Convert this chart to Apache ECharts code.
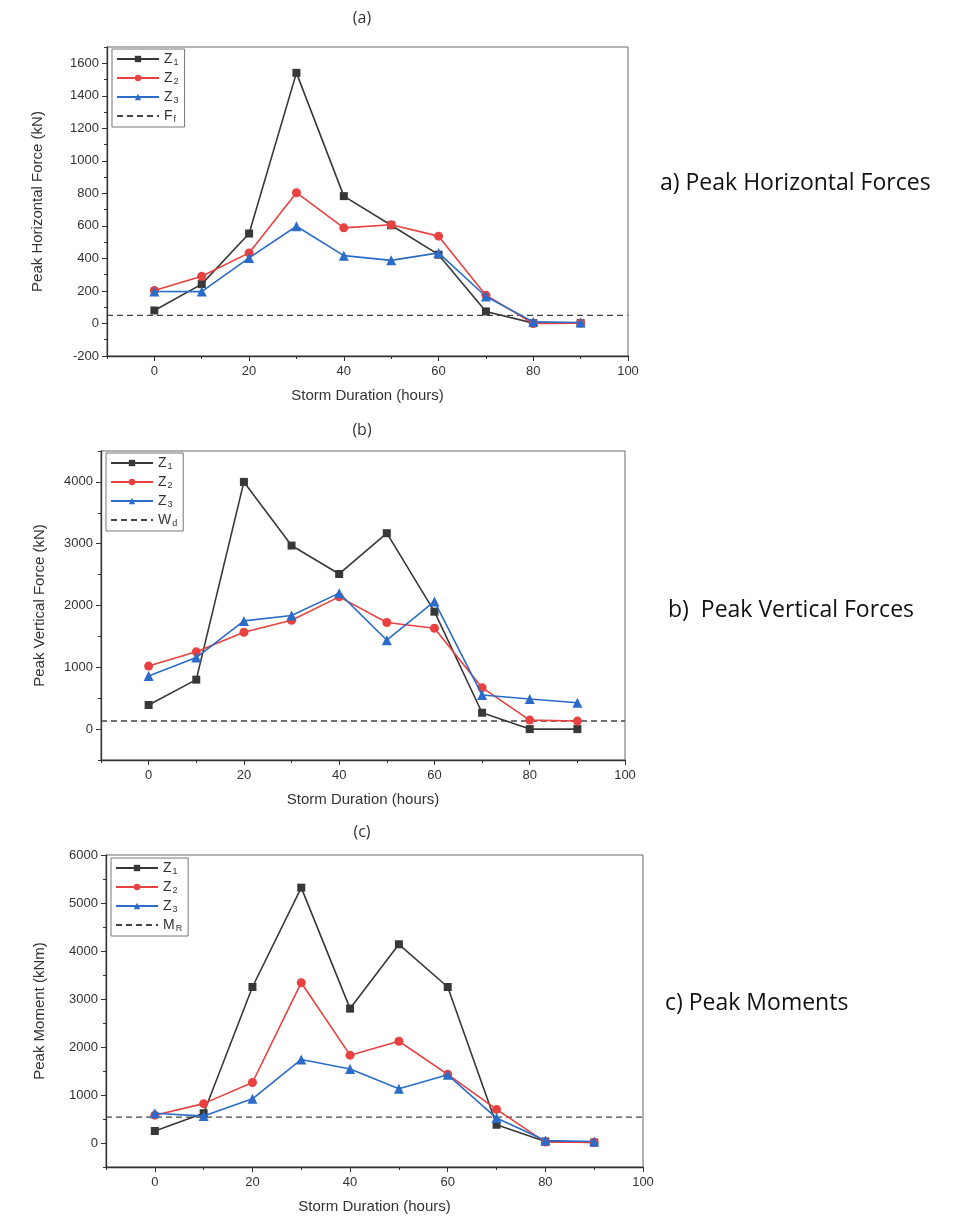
<!DOCTYPE html>
<html>
<head>
<meta charset="utf-8">
<script src="https://cdn.jsdelivr.net/npm/echarts@6/dist/echarts.min.js"></script>
<style>
html,body{margin:0;padding:0;background:#fff;}
#chart{width:956px;height:1216px;}
</style>
</head>
<body>
<div id="chart"></div>
<script>
// ---- data ----
const stormHours = [0, 10, 20, 30, 40, 50, 60, 70, 80, 90];

const hForceZ1 = [80, 242, 553, 1541, 783, 604, 423, 74, 2, 2];
const hForceZ2 = [203, 290, 434, 804, 588, 607, 537, 174, 0, 2];
const hForceZ3 = [197, 196, 403, 598, 417, 388, 434, 166, 10, 6];
const hForceFf = 50;

const vForceZ1 = [390, 800, 4000, 2970, 2510, 3170, 1900, 265, 0, 0];
const vForceZ2 = [1020, 1250, 1568, 1762, 2140, 1724, 1632, 670, 146, 130];
const vForceZ3 = [859, 1157, 1751, 1838, 2200, 1438, 2065, 551, 486, 427];
const vForceWd = 130;

const momentZ1 = [250, 620, 3250, 5320, 2800, 4140, 3250, 380, 30, 10];
const momentZ2 = [580, 820, 1260, 3340, 1830, 2120, 1430, 700, 20, 10];
const momentZ3 = [620, 560, 920, 1740, 1540, 1130, 1420, 520, 50, 30];
const momentMr = 540;

const xTickLabels = [0, 20, 40, 60, 80, 100];
const hTickLabels = [-200, 0, 200, 400, 600, 800, 1000, 1200, 1400, 1600];
const vTickLabels = [0, 1000, 2000, 3000, 4000];
const mTickLabels = [0, 1000, 2000, 3000, 4000, 5000, 6000];

const panelTitles = ['(a)', '(b)', '(c)'];
const sideLabels = ['a) Peak Horizontal Forces', 'b)  Peak Vertical Forces', 'c) Peak Moments'];
const yNames = ['Peak Horizontal Force (kN)', 'Peak Vertical Force (kN)', 'Peak Moment (kNm)'];
const xName = 'Storm Duration (hours)';
const seriesNames = ['Z_1', 'Z_2', 'Z_3'];
const limitNames = ['F_f', 'W_d', 'M_R'];

// ---- layout / style ----
const panels = [
  {grid: {left: 107, top: 47, width: 521, height: 309}, yMin: -200, yMax: 1700, yMinor: 100, yTicks: hTickLabels,
   data: [hForceZ1, hForceZ2, hForceZ3], limit: hForceFf, nameGap: 62,
   title: [362, 18], side: [660, 183], legend: {left: 112, top: 49}},
  {grid: {left: 101, top: 451, width: 524, height: 309}, yMin: -500, yMax: 4500, yMinor: 500, yTicks: vTickLabels,
   data: [vForceZ1, vForceZ2, vForceZ3], limit: vForceWd, nameGap: 54,
   title: [362, 430], side: [668, 610], legend: {left: 106, top: 453}},
  {grid: {left: 106, top: 855, width: 537, height: 312}, yMin: -500, yMax: 6000, yMinor: 500, yTicks: mTickLabels,
   data: [momentZ1, momentZ2, momentZ3], limit: momentMr, nameGap: 59,
   title: [362, 832], side: [665, 1003], legend: {left: 111, top: 858}}
];

const colors = ['#383838', '#e8413f', '#2a6cc8'];
const symbols = ['rect', 'circle', 'triangle'];
const symbolSizes = [8, 9, 10];
const axisColor = '#333';
const labelFont = {fontFamily: 'Liberation Sans, Arial', fontSize: 13, color: '#333'};
const plainNum = v => String(v);

const grids = [], xAxes = [], yAxes = [], series = [], legends = [], graphics = [];

panels.forEach((p, i) => {
  grids.push(Object.assign({show: true, borderColor: '#666', borderWidth: 1, backgroundColor: 'transparent'}, p.grid));
  // main x axis (labels + major ticks)
  xAxes.push({
    type: 'value', gridIndex: i, min: -10, max: 100, position: 'bottom',
    name: xName, nameLocation: 'middle', nameGap: 32,
    nameTextStyle: {fontFamily: 'Liberation Sans, Arial', fontSize: 15, color: '#333'},
    axisLine: {show: true, onZero: false, lineStyle: {color: axisColor, width: 1.3}},
    axisTick: {show: true, length: 5, customValues: xTickLabels, lineStyle: {color: axisColor}},
    axisLabel: Object.assign({customValues: xTickLabels, margin: 9, formatter: plainNum}, labelFont),
    splitLine: {show: false}
  });
  // minor x ticks
  xAxes.push({
    type: 'value', gridIndex: i, min: -10, max: 100, interval: 10, position: 'bottom',
    axisLine: {show: false, onZero: false}, axisLabel: {show: false}, splitLine: {show: false},
    axisTick: {show: true, length: 3, lineStyle: {color: axisColor}}
  });
  yAxes.push({
    type: 'value', gridIndex: i, min: p.yMin, max: p.yMax, position: 'left',
    name: yNames[i], nameLocation: 'middle', nameGap: p.nameGap,
    nameTextStyle: {fontFamily: 'Liberation Sans, Arial', fontSize: 15, color: '#333'},
    axisLine: {show: true, onZero: false, lineStyle: {color: axisColor, width: 1.3}},
    axisTick: {show: true, length: 5, customValues: p.yTicks, lineStyle: {color: axisColor}},
    axisLabel: Object.assign({customValues: p.yTicks, margin: 8, formatter: plainNum}, labelFont),
    splitLine: {show: false}
  });
  yAxes.push({
    type: 'value', gridIndex: i, min: p.yMin, max: p.yMax, interval: p.yMinor, position: 'left',
    axisLine: {show: false, onZero: false}, axisLabel: {show: false}, splitLine: {show: false},
    axisTick: {show: true, length: 3, lineStyle: {color: axisColor}}
  });

  p.data.forEach((vals, k) => {
    series.push({
      type: 'line', name: seriesNames[k], xAxisIndex: i * 2, yAxisIndex: i * 2,
      data: stormHours.map((h, j) => [h, vals[j]]),
      symbol: symbols[k], symbolSize: symbolSizes[k], showSymbol: true,
      lineStyle: {color: colors[k], width: 1.6},
      itemStyle: {color: colors[k]},
      animation: false, z: 3 + k
    });
  });
  series.push({
    type: 'line', name: limitNames[i], xAxisIndex: i * 2, yAxisIndex: i * 2,
    data: [[-10, p.limit], [100, p.limit]],
    symbol: 'none', lineStyle: {color: '#444', width: 1.4, type: [6, 4]},
    itemStyle: {color: 'rgba(0,0,0,0)', borderWidth: 0}, animation: false, z: 2
  });

  legends.push({
    left: p.legend.left, top: p.legend.top, orient: 'vertical',
    data: seriesNames.concat([limitNames[i]]),
    borderColor: '#777', borderWidth: 1, padding: [3, 6, 3, 4], itemGap: 4,
    itemWidth: 42, itemHeight: 8, selectedMode: false,
    formatter: function (name) {
      const parts = name.split('_');
      return '{b|' + parts[0] + '}{s|' + parts[1] + '}';
    },
    textStyle: {
      color: '#333',
      rich: {
        b: {fontFamily: 'Liberation Sans, Arial', fontSize: 14, color: '#333'},
        s: {fontFamily: 'Liberation Sans, Arial', fontSize: 9, color: '#333', padding: [7, 0, 0, 1]}
      }
    }
  });

  graphics.push({
    type: 'text', x: p.title[0], y: p.title[1],
    style: {text: panelTitles[i], fontFamily: 'Open Sans', fontSize: 16, fill: '#333',
            align: 'center', verticalAlign: 'middle', textAlign: 'center', textVerticalAlign: 'middle'}
  });
  graphics.push({
    type: 'text', x: p.side[0], y: p.side[1],
    style: {text: sideLabels[i], fontFamily: 'Open Sans', fontSize: 23, fill: '#111',
            align: 'left', verticalAlign: 'middle', textAlign: 'left', textVerticalAlign: 'middle'}
  });
});

const chart = echarts.init(document.getElementById('chart'), null, {renderer: 'canvas'});
chart.setOption({
  backgroundColor: '#fff',
  animation: false,
  grid: grids,
  xAxis: xAxes,
  yAxis: yAxes,
  legend: legends,
  series: series,
  graphic: graphics
});
</script>
</body>
</html>
